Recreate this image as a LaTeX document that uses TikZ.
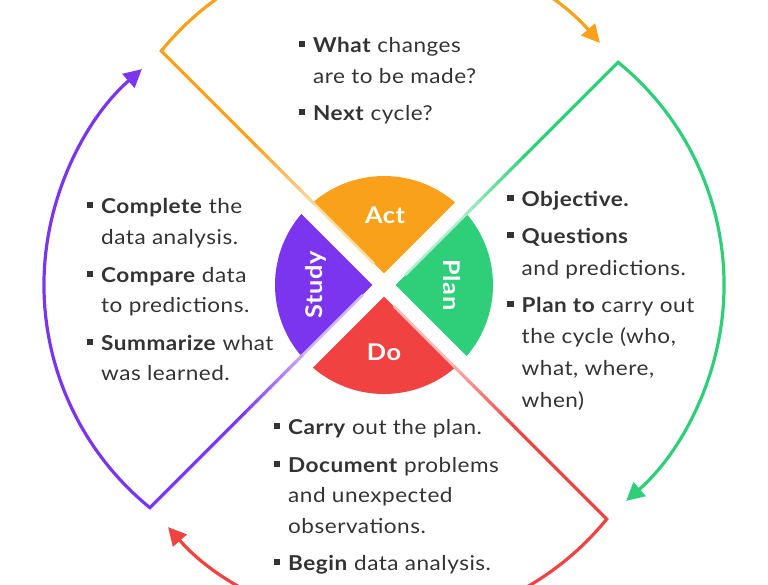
\documentclass[tikz,border=0pt]{standalone}
\usepackage{fontspec}
\setmainfont{Lato}[FakeStretch=1.1, LetterSpace=2.5]
\usetikzlibrary{arrows.meta,calc}
\definecolor{actc}{HTML}{F9A11B}
\definecolor{planc}{HTML}{2ECF78}
\definecolor{doc}{HTML}{F04240}
\definecolor{studyc}{HTML}{7B35EE}
\definecolor{txtc}{HTML}{333333}
\newcommand\pdcab{\llap{\textcolor{txtc}{\rule[5pt]{6.5pt}{6.5pt}}\hspace{8pt}}}
\tikzset{
  txt/.style={anchor=base west, inner sep=0pt, text=txtc, font=\fontsize{20.5}{31}\selectfont},
  lbl/.style={text=white, inner sep=0pt, font=\fontsize{23}{26}\selectfont\bfseries},
  cyc/.style={line width=3.2pt, line join=miter, -{Triangle[length=18pt,width=18pt]}},
}
\begin{document}
\begin{tikzpicture}[x=1pt,y=1pt]
\useasboundingbox (0,0) rectangle (768,-584);
\clip (0,0) rectangle (768,-584);
\coordinate (O) at (384,-285);
% wedges
\fill[actc] (O) -- ++(45:109) arc[start angle=45,end angle=135,radius=109] -- cycle;
\fill[planc] (O) -- ++(-45:109) arc[start angle=-45,end angle=45,radius=109] -- cycle;
\fill[doc] (O) -- ++(-135:109) arc[start angle=-135,end angle=-45,radius=109] -- cycle;
\fill[studyc] (O) -- ++(135:109) arc[start angle=135,end angle=225,radius=109] -- cycle;
\draw[white, line width=16pt] ($(O)+(45:116)$) -- ($(O)+(225:116)$);
\draw[white, line width=16pt] ($(O)+(135:116)$) -- ($(O)+(-45:116)$);
% cycle outlines
\foreach \p/\c/\n in {0/actc/a, -90/planc/p, -180/doc/d, 90/studyc/s} {
  \pgfmathsetmacro\ta{90+\p}
  \pgfmathsetmacro\ea{135+\p}
  \pgfmathsetmacro\sa{140.9+\p}
  \pgfmathsetmacro\fa{41.2+\p}
  \coordinate (T\n) at ($(O)+(\ta:11.3)$);
  \coordinate (W\n) at ($(T\n)+(\ea:100.7)$);
  \coordinate (C\n) at ($(T\n)+(\ea:315)$);
  \coordinate (F\n) at ($(W\n)!90pt!(C\n)$);
  \coordinate (E\n) at ($(T\n)+(\ea:14)$);
  \draw[\c!35!white, line width=2.6pt] (W\n) -- (E\n);
  \foreach \i in {0,...,9} {
    \pgfmathtruncatemacro\sh{100-6*\i}
    \draw[\c!\sh!white, line width=3.2pt] ($(F\n)!{\i/10}!(W\n)$) -- ($(F\n)!{(\i+1.2)/10}!(W\n)$);
  }
  \draw[cyc, \c] (F\n) -- (C\n) arc[start angle=\sa, end angle=\fa, radius=287];
}
% wedge labels
\node[lbl] (act) at (385,-215) {Act};
\node[lbl, rotate=-90] (plan) at (452,-285) {Plan};
\node[lbl, rotate=90] (study) at (316,-285) {Study};
\node[lbl] (do) at (384,-352) {Do};
% texts
\foreach \y/\t [count=\k] in {52/{\pdcab\textbf{What} changes}, 83/{are to be made?}, 120/{\pdcab\textbf{Next} cycle?}}
  \node[txt] (top\k) at (313,-\y) {\t};
\foreach \y/\t [count=\k] in {213/{\pdcab\textbf{Complete} the}, 244/{data analysis.}, 282/{\pdcab\textbf{Compare} data}, 312/{to predictions.}, 350/{\pdcab\textbf{Summarize} what}, 380/{was learned.}}
  \node[txt] (left\k) at (101,-\y) {\t};
\foreach \y/\t [count=\k] in {206/{\pdcab\textbf{Objective.}}, 243/{\pdcab\textbf{Questions}}, 275/{and predictions.}, 312/{\pdcab\textbf{Plan to} carry out}, 343/{the cycle (who,}, 375/{what, where,}, 407/{when)}}
  \node[txt] (right\k) at (521.5,-\y) {\t};
\foreach \y/\t [count=\k] in {434/{\pdcab\textbf{Carry} out the plan.}, 472/{\pdcab\textbf{Document} problems}, 502/{and unexpected}, 533/{observations.}, 570/{\pdcab\textbf{Begin} data analysis.}}
  \node[txt] (bot\k) at (288,-\y) {\t};
\end{tikzpicture}
\end{document}
